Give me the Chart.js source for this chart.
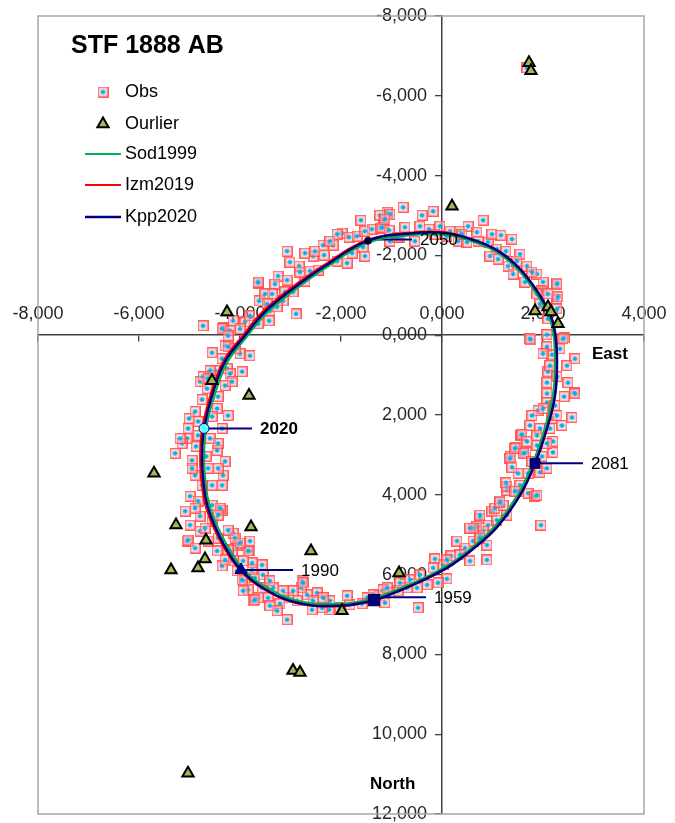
<!DOCTYPE html>
<html><head><meta charset="utf-8">
<script src="https://cdn.jsdelivr.net/npm/chart.js@4.4.1/dist/chart.umd.min.js"></script>
<style>html,body{margin:0;padding:0;background:#fff}#wrap{width:675px;height:823px}</style>
</head><body><div id="wrap"><canvas id="c" width="675" height="823"></canvas></div>
<script>
const chartTitle = 'STF 1888 AB';
const xTickValues = [-8000,-6000,-4000,-2000,0,2000,4000];
const yTickValues = [-8000,-6000,-4000,-2000,0,2000,4000,6000,8000,10000,12000];
const seriesNames = ['Obs','Ourlier','Sod1999','Izm2019','Kpp2020'];
const axisNames = ['East','North'];

const obsX = [
-1604,-1168,-1089,-1980,-1841,-1683,-1386,-1208,-1525,-2158,
-2356,-2554,-2713,-2336,-2079,-1881,-1782,-1564,-1525,-3069,
-2831,-2614,-2455,-3247,-3069,-3643,-3307,-2713,-2950,-3366,
-3148,-3623,-3406,-3267,-2891,-3425,-3643,-3901,-4138,-4336,
-4732,-1228,-772,-1030,-396,-178,-1188,-1049,-733,-436,
-257,-40,158,356,515,812,693,911,713,1168,
1089,1267,950,1544,1109,1307,1683,1406,1881,1643,
2000,2277,1980,2277,-1030,-832,317,495,1762,2079,
2416,2079,2178,2633,2475,2099,2277,2495,2079,2614,
2079,2416,2079,2237,1901,2574,2376,2178,1742,1940,
1564,1881,2198,1465,1663,2198,1366,1980,1505,1940,
2079,1287,1703,1841,1544,1148,990,1287,752,911,
1960,673,812,891,891,1584,1445,1620,1881,1703,
1505,1049,1208,1089,693,752,614,455,356,554,
178,20,-139,99,-79,-297,-495,-693,-871,-1030,
-475,-1228,-1129,1287,-1168,-1485,-1584,-1822,-2020,-2218,
-2237,-2376,-2574,-2475,-2673,-2792,-2772,-2871,-3049,-3208,
-3267,-3069,-3445,-3346,-3643,-3742,-3564,-3841,-3901,-3703,
-3544,-3564,-3762,-4059,-3960,-3802,-3762,-3940,-4138,-4059,
-4158,-5049,-4455,-4356,-3703,-3406,-2752,-4554,-4297,-4000,
-3802,-4495,-4257,-3960,-4792,-4297,-4752,-4435,-4455,-5009,
-4237,-4831,-5029,-5049,-4831,-4594,-5148,-4871,-4455,-5287,
-4297,-4950,-4673,-4633,-4336,-4891,-4990,-4554,-4356,-4831,
-4554,-4356,-5089,-4792,-4990,-4554,-4237,-4792,-5029,-4435,
-4099,-4237,-3841,-4297,-4356,-3643,-3109,-4237,-4594,-4198,
-4732,-5188,-4396,1742,2396,2633,2277,2297,2277,1346,
1881,2099,1940,1683,
-2079,-2218,-2515,-3010,-2812,-3505,-3465,-3802,-4000,-4198,
-891,-535,-139,99,396,990,1386,1485,1782,1881,
2099,2000,2336,2138,2000,2277,1782,2138,1683,2079,
1782,1386,1267,1445,1148,614,752,752,554,297,
99,-178,-436,-634,-832,-1089,-1366,-1881,-2356,-2554,
-2950,-3148,-3406,-3940,-4138,-3802,-4237,-4099,-4356,-4633,
-4158,-4653,-4891,-4554,-4356,-4435,-4950,-4435,-4752,-4891,
-4435,-4693,-4633,-4000,-4891,-1129
];
const obsY = [
-2882,-2807,-3081,-2557,-2457,-2482,-2657,-2682,-2607,-2257,
-2257,-1983,-2058,-2008,-1858,-1808,-2058,-2207,-1983,-2107,
-1733,-1608,-1633,-1483,-1383,-1308,-1283,-1358,-1084,-1034,
-859,-859,-609,-709,-534,-360,-285,-335,-360,-185,
-235,-3006,-3206,-3031,-3006,-3106,-2707,-2632,-2707,-2732,
-2657,-2732,-2607,-2607,-2732,-2882,-2582,-2332,-2357,-2507,
-2157,-2107,-1983,-2033,-1908,-1733,-1733,-1533,-1533,-1333,
-1333,-1308,-1109,-884,-2357,-2457,-2357,-2332,115,-10,
65,290,489,589,764,914,1039,1189,1189,1438,
1463,1538,1688,1763,1888,2063,2262,2087,2262,2337,
2512,2512,2662,2812,2936,2936,3036,3036,3461,3436,
3336,3885,3960,4035,3760,4160,4410,4510,4584,4759,
4759,4834,4909,5259,5633,2487,2837,2960,2762,3461,
3910,4335,4260,4634,4784,5009,5159,5334,5508,5658,
5533,5758,5608,6108,6207,6257,6332,6332,6407,6457,
6832,6532,6707,3785,6382,6582,6732,6757,6832,6657,
6882,6832,6882,6457,6507,6332,6158,6657,6582,6732,
6907,7131,6582,6332,6582,6657,6332,6382,6158,6083,
6008,5758,5883,5908,6133,5408,5708,5658,4959,5259,
5408,5159,5408,5783,6632,6782,6207,439,265,464,
514,889,839,914,1164,1263,1613,1538,1838,2087,
2013,2162,2337,2587,2512,2587,2712,2787,2887,2961,
3161,3136,3036,3336,3511,3511,4035,3760,3760,4160,
4260,4385,4410,4535,4759,4659,4884,4909,5134,5084,
5084,5383,5408,5633,-160,-1333,-1084,290,889,964,
1039,2587,4335,90,90,1463,-659,-959,-1283,3086,
4010,-410,-784,-6702,
-2532,-2357,-2107,-1833,-1583,-1034,-784,-485,-160,-110,
-2457,-2357,-2532,-2482,-2532,-2532,-2407,-1858,-1583,-1034,
-1034,464,340,764,1838,2013,2013,2337,2662,2712,
3161,3311,3700,3910,4185,4834,5084,4509,4834,5159,
5633,5833,6008,6133,6207,6332,6507,6532,6582,6657,
6407,6407,6158,6407,5658,5159,15,340,589,1089,
1164,1338,1913,2038,2337,2712,3336,3336,3760,4335,
4509,4834,5159,5209,5334,-2907
];

const outlierX = [1723,1762,198,1842,2099,2158,2297,-4257,-4554,-3822,-5703,-5267,-3782,-4673,-2594,-4693,-5366,-4832,-851,-1980,-2950,-2812,-5030];
const outlierY = [-6826,-6627,-3231,-609,-709,-584,-285,-584,1139,1513,3461,4755,4805,5140,5409,5609,5884,5834,5958,6907,8405,8455,10976];

const sodX = [-1340,-2020,-2860,-3510,-3940,-4290,-4590,-4690,-4710,-4670,-4510,-4255,-3885,-3490,-2980,-2295,-1455,-575,90,675,1125,1515,1845,2100,2200,2235,2195,2035,1800,1505,1055,590,85,-575,-1340];
const sodY = [6600,6730,6655,6290,5850,5190,4325,3580,3010,2340,1530,690,70,-525,-1070,-1690,-2320,-2510,-2510,-2315,-2045,-1625,-1085,-520,-80,660,1505,2325,3190,3985,4775,5320,5790,6210,6600];

const izmX = [-1347,-2030,-2885,-3565,-4005,-4370,-4670,-4770,-4790,-4750,-4590,-4335,-3960,-3560,-3040,-2340,-1480,-580,100,693,1149,1545,1881,2139,2238,2277,2238,2079,1842,1545,1089,614,99,-574,-1347];
const izmY = [6660,6790,6715,6340,5885,5210,4335,3585,3010,2337,1510,660,30,-580,-1135,-1755,-2385,-2575,-2570,-2357,-2082,-1658,-1109,-534,-85,664,1513,2337,3211,4010,4809,5358,5833,6257,6660];

const kppX = [-1347,-2020,-2871,-3545,-3980,-4336,-4633,-4732,-4752,-4713,-4554,-4297,-3920,-3524,-3010,-2317,-1465,-574,99,693,1149,1545,1881,2139,2238,2277,2238,2079,1842,1545,1089,614,99,-574,-1347];
const kppY = [6657,6782,6707,6332,5883,5209,4335,3586,3011,2337,1513,664,40,-559,-1109,-1733,-2370,-2557,-2557,-2357,-2082,-1658,-1109,-534,-85,664,1513,2337,3211,4010,4809,5358,5833,6257,6657];

const yearLabels = ['1959','1990','2020','2050','2081'];
const yearX = [-1347,-3980,-4713,-1465,1842];
const yearY = [6640,5883,2337,-2370,3211];
const leaderY = [6570,5883,2337,-2400,3211];
const leaderEndX = [-317,-2950,-3762,-594,2792];

const NAVY = '#000080';
const FONT = '"Liberation Sans", Arial, Helvetica, sans-serif';
Chart.defaults.font.family = FONT;

function makeObsMarker(){
  const c = document.createElement('canvas'); c.width = 11; c.height = 11;
  const g = c.getContext('2d');
  g.fillStyle = 'rgba(255,185,185,0.45)'; g.fillRect(0,0,11,11);
  g.lineWidth = 1;
  g.strokeStyle = 'rgba(255,70,70,0.85)'; g.strokeRect(0.5,0.5,10,10);
  g.strokeStyle = 'rgba(255,140,140,0.6)'; g.strokeRect(1.5,1.5,8,8);
  g.fillStyle = '#00AEEF'; g.beginPath(); g.arc(5.5,5.5,2.3,0,Math.PI*2); g.fill();
  return c;
}
const obsMarker = makeObsMarker();

const pts = (xs, ys) => xs.map((v,i)=>({x:v, y:ys[i]}));
const curve = (label, xs, ys, color, w) => ({label, data: pts(xs,ys), showLine:true, pointRadius:0, pointHoverRadius:0, borderColor:color, backgroundColor:color, borderWidth:w, tension:0.4, fill:false});

const markerStyles = [
  {pointStyle:'rect', pointRadius:8, backgroundColor:NAVY, borderColor:'#000040', borderWidth:1},
  {pointStyle:'triangle', pointRadius:7, backgroundColor:NAVY, borderColor:NAVY, borderWidth:1},
  {pointStyle:'circle', pointRadius:5, backgroundColor:'#66FFFF', borderColor:NAVY, borderWidth:1},
  {pointStyle:'circle', pointRadius:3.5, backgroundColor:'#000030', borderColor:'#000030', borderWidth:1},
  {pointStyle:'rect', pointRadius:7, backgroundColor:NAVY, borderColor:'#000040', borderWidth:1}
];

const datasets = [];
yearLabels.forEach((lab,i)=>{
  datasets.push(Object.assign({label:'m'+lab, data:[{x:yearX[i], y:yearY[i]}], showLine:false}, markerStyles[i]));
});
datasets.push({label:'Ourlier', data: pts(outlierX,outlierY), pointStyle:'triangle', pointRadius:6.5, backgroundColor:'#9BBB59', borderColor:'#000000', borderWidth:2});
datasets.push(curve('Kpp2020', kppX, kppY, NAVY, 2.5));
datasets.push(curve('Izm2019', izmX, izmY, '#FF0000', 2));
datasets.push(curve('Sod1999', sodX, sodY, '#00B050', 2));
yearLabels.forEach((lab,i)=>{
  datasets.push({label:'l'+lab, data:[{x:yearX[i], y:leaderY[i]},{x:leaderEndX[i], y:leaderY[i]}], showLine:true, pointRadius:0, borderColor:NAVY, borderWidth:2});
});
datasets.push({label:'Obs', data: pts(obsX,obsY), pointStyle: obsMarker, pointRadius:6});

function fmt(v){
  const s = Math.abs(v);
  return (v<0?'-':'') + Math.floor(s/1000) + ',' + String(s%1000).padStart(3,'0');
}

const deco = {
  id:'deco',
  beforeDraw(chart){
    const {ctx, width, height} = chart;
    ctx.save(); ctx.fillStyle = '#fff'; ctx.fillRect(0,0,width,height); ctx.restore();
  },
  afterDraw(chart){
    const {ctx, chartArea:a, scales:{x, y}} = chart;
    ctx.save();
    ctx.strokeStyle = '#A6A6A6'; ctx.lineWidth = 1.5;
    ctx.strokeRect(a.left, a.top, a.right-a.left, a.bottom-a.top);
    ctx.fillStyle = '#000'; ctx.textBaseline = 'middle'; ctx.textAlign = 'left';
    ctx.font = 'bold 25px ' + FONT;
    ctx.fillText(chartTitle, a.left + 33, a.top + 30);
    const L = a.left, T = a.top;
    const rows = [76, 108, 138, 169, 201].map(v => T + v);
    ctx.drawImage(obsMarker, L + 65 - 5.5, rows[0] - 5.5);
    ctx.fillStyle = '#9BBB59'; ctx.strokeStyle = '#000'; ctx.lineWidth = 2;
    Chart.helpers.drawPoint(ctx, {pointStyle:'triangle', radius:6.5, borderWidth:2, rotation:0}, L + 65, rows[1]);
    const lineCols = ['#00B050','#FF0000',NAVY];
    lineCols.forEach((c,i)=>{
      ctx.strokeStyle = c; ctx.lineWidth = i===2 ? 2.5 : 2;
      ctx.beginPath(); ctx.moveTo(L + 47, rows[2+i]); ctx.lineTo(L + 83, rows[2+i]); ctx.stroke();
    });
    ctx.fillStyle = '#000'; ctx.font = '18px ' + FONT;
    seriesNames.forEach((n,i)=> ctx.fillText(n, L + 87, rows[i]));
    yearLabels.forEach((lab,i)=>{
      ctx.font = (lab === '2020' ? 'bold ' : '') + '17px ' + FONT;
      ctx.fillText(lab, x.getPixelForValue(leaderEndX[i]) + 8, y.getPixelForValue(leaderY[i]) + 1);
    });
    ctx.font = 'bold 17px ' + FONT;
    ctx.fillText(axisNames[0], x.getPixelForValue(2970), y.getPixelForValue(490));
    ctx.fillText(axisNames[1], x.getPixelForValue(-1426), y.getPixelForValue(11250));
    ctx.restore();
  }
};

const axisColor = '#404040';
new Chart(document.getElementById('c'), {
  type:'scatter',
  data:{datasets},
  options:{
    responsive:false, animation:false, events:[],
    layout:{padding:{left:38, top:16, right:31, bottom:6}},
    plugins:{legend:{display:false}, tooltip:{enabled:false}, title:{display:false}},
    scales:{
      x:{
        type:'linear', min:-8000, max:4000, position:{y:0},
        afterBuildTicks: s => { s.ticks = xTickValues.map(v=>({value:v})); },
        afterFit: s => { s.height = 0; s.paddingLeft = 0; s.paddingRight = 0; },
        grid:{drawOnChartArea:false, drawTicks:true, tickLength:6, color:axisColor, lineWidth:1.3},
        border:{display:true, color:axisColor, width:1.5},
        ticks:{callback: v => fmt(v), autoSkip:false, maxRotation:0, padding:-38, color:'#262626', font:{size:18, family:FONT}}
      },
      y:{
        type:'linear', min:-8000, max:12000, reverse:true, position:{x:0},
        afterBuildTicks: s => { s.ticks = yTickValues.map(v=>({value:v})); },
        afterFit: s => { s.width = 0; s.paddingTop = 0; s.paddingBottom = 0; },
        grid:{drawOnChartArea:false, drawTicks:true, tickLength:6, color:axisColor, lineWidth:1.3},
        border:{display:true, color:axisColor, width:1.5},
        ticks:{callback: v => fmt(v) + '   ', autoSkip:false, padding:10, color:'#262626', font:{size:18, family:FONT}}
      }
    }
  },
  plugins:[deco]
});
</script>
</body></html>
